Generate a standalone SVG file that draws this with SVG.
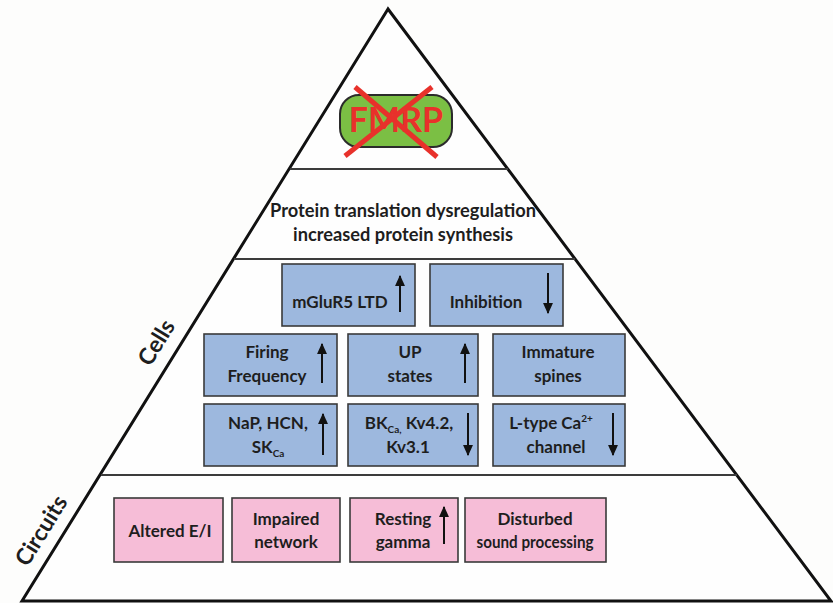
<svg xmlns="http://www.w3.org/2000/svg" width="833" height="603" viewBox="0 0 833 603">
  <defs>
    <marker id="head" viewBox="0 0 10 10" refX="9" refY="5" markerWidth="5.5" markerHeight="5.5" markerUnits="strokeWidth" orient="auto">
      <path d="M0,0.5 L10,5 L0,9.5 Z" fill="#111"/>
    </marker>
    <style>
      .t { font-family: Lato, "Liberation Sans", Arial, sans-serif; font-weight: bold; fill: #1e1e1e; text-anchor: middle; }
      .box-blue { fill: #9db8de; stroke: #3a3a3a; stroke-width: 1.6; }
      .box-pink { fill: #f6bdd7; stroke: #3a3a3a; stroke-width: 1.6; }
      .lbl { font-size: 17px; }
      .arrow { stroke: #111; stroke-width: 2; fill: none; marker-end: url(#head); }
      .tier { stroke: #3c3c3c; stroke-width: 2; }
      .side { font-size: 23px; }
    </style>
  </defs>

  <rect width="833" height="603" fill="#fdfdfc"/>

  <!-- pyramid outline and tier dividers -->
  <g id="pyramid">
    <polygon points="388,9 22,601 831,601" fill="#fefefe" stroke="#111" stroke-width="3" stroke-linejoin="miter"/>
    <line class="tier" x1="290" y1="169" x2="508" y2="169"/>
    <line class="tier" x1="234" y1="259" x2="575" y2="259"/>
    <line class="tier" x1="101" y1="475" x2="737" y2="475"/>
  </g>

  <!-- side labels -->
  <text class="t side" transform="translate(157,343) rotate(-58.3)" dy="7">Cells</text>
  <text class="t side" transform="translate(42,531) rotate(-58.3)" dy="7">Circuits</text>

  <!-- top tier: FMRP knocked out -->
  <g id="fmrp">
    <rect x="340" y="95" width="112" height="52" rx="19" fill="#7bbf44" stroke="#2b2b2b" stroke-width="2"/>
    <text x="396" y="132" font-family="Lato, Liberation Sans, Arial, sans-serif" font-weight="bold" font-size="34" fill="#e8312b" text-anchor="middle">FMRP</text>
    <line x1="355" y1="87" x2="437" y2="157" stroke="#e8312b" stroke-width="5"/>
    <line x1="432" y1="87" x2="345" y2="156" stroke="#e8312b" stroke-width="5"/>
  </g>

  <!-- translation tier -->
  <g id="translation">
    <text class="t" x="403" y="217" font-size="18" textLength="266" lengthAdjust="spacingAndGlyphs">Protein translation dysregulation</text>
    <text class="t" x="403" y="241" font-size="18" textLength="220" lengthAdjust="spacingAndGlyphs">increased protein synthesis</text>
  </g>

  <!-- cell tier -->
  <g id="mglur5">
    <rect class="box-blue" x="282" y="264" width="133" height="62"/>
    <text class="t lbl" x="340" y="308">mGluR5 LTD</text>
    <line class="arrow" x1="400" y1="312" x2="400" y2="276"/>
  </g>
  <g id="inhibition">
    <rect class="box-blue" x="430" y="264" width="133" height="62"/>
    <text class="t lbl" x="486" y="308">Inhibition</text>
    <line class="arrow" x1="548" y1="273" x2="548" y2="313"/>
  </g>

  <g id="firing">
    <rect class="box-blue" x="204" y="334" width="133" height="62"/>
    <text class="t lbl" x="267" y="358">Firing</text>
    <text class="t lbl" x="267" y="382">Frequency</text>
    <line class="arrow" x1="322" y1="383" x2="322" y2="344"/>
  </g>
  <g id="upstates">
    <rect class="box-blue" x="348" y="334" width="130" height="62"/>
    <text class="t lbl" x="410" y="358">UP</text>
    <text class="t lbl" x="410" y="382">states</text>
    <line class="arrow" x1="465" y1="383" x2="465" y2="344"/>
  </g>
  <g id="spines">
    <rect class="box-blue" x="493" y="334" width="132" height="62"/>
    <text class="t lbl" x="558" y="358">Immature</text>
    <text class="t lbl" x="558" y="382">spines</text>
  </g>

  <g id="nap">
    <rect class="box-blue" x="204" y="404" width="133" height="62"/>
    <text class="t lbl" x="268" y="429">NaP, HCN,</text>
    <text class="t lbl" x="268" y="453">SK<tspan font-size="10" dy="4">Ca</tspan></text>
    <line class="arrow" x1="323" y1="455" x2="323" y2="414"/>
  </g>
  <g id="bk">
    <rect class="box-blue" x="348" y="404" width="130" height="62"/>
    <text class="t lbl" x="409" y="429">BK<tspan font-size="10" dy="4">Ca,</tspan><tspan dy="-4"> Kv4.2,</tspan></text>
    <text class="t lbl" x="408" y="453">Kv3.1</text>
    <line class="arrow" x1="468" y1="413" x2="468" y2="455"/>
  </g>
  <g id="ltype">
    <rect class="box-blue" x="493" y="404" width="132" height="62"/>
    <text class="t lbl" x="551" y="429">L-type Ca<tspan font-size="10" dy="-7">2+</tspan></text>
    <text class="t lbl" x="556" y="453">channel</text>
    <line class="arrow" x1="613" y1="413" x2="613" y2="455"/>
  </g>

  <!-- circuit tier -->
  <g id="altered-ei">
    <rect class="box-pink" x="114" y="498" width="109" height="64"/>
    <text class="t lbl" x="170" y="537">Altered E/I</text>
  </g>
  <g id="impaired-network">
    <rect class="box-pink" x="232" y="498" width="108" height="64"/>
    <text class="t lbl" x="286" y="525">Impaired</text>
    <text class="t lbl" x="286" y="548">network</text>
  </g>
  <g id="resting-gamma">
    <rect class="box-pink" x="350" y="498" width="108" height="64"/>
    <text class="t lbl" x="403" y="525">Resting</text>
    <text class="t lbl" x="403" y="548">gamma</text>
    <line class="arrow" x1="444" y1="544" x2="444" y2="507"/>
  </g>
  <g id="sound-processing">
    <rect class="box-pink" x="465" y="498" width="141" height="64"/>
    <text class="t lbl" x="535" y="525">Disturbed</text>
    <text class="t lbl" x="535" y="548" textLength="117" lengthAdjust="spacingAndGlyphs">sound processing</text>
  </g>
</svg>
